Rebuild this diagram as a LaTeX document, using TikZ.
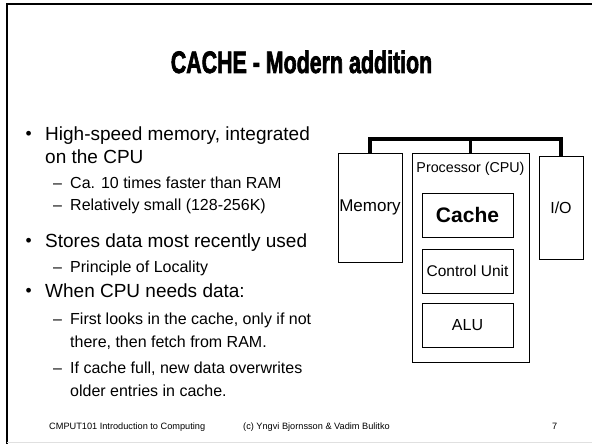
\documentclass[tikz,border=0pt]{standalone}
\usepackage{fontspec}
\setmainfont{Liberation Sans}
\newfontfamily\titlefont[FakeBold=2.6]{Liberation Sans Bold}
\begin{document}
\begin{tikzpicture}[x=1pt,y=-1pt,
  txt/.style={anchor=base west,inner sep=0pt,font=\fontsize{19}{23}\selectfont},
  dot/.style={anchor=base west,inner sep=0pt,font=\fontsize{17.5}{23}\selectfont},
  subtxt/.style={anchor=base west,inner sep=0pt,font=\fontsize{16}{19}\selectfont},
  foot/.style={anchor=base west,inner sep=0pt,font=\fontsize{9.2}{11}\selectfont},
  box/.style={draw=black,line width=0.8pt,inner sep=0pt,align=center,
              font=\fontsize{15.5}{18}\selectfont},
  bus/.style={line width=3.4pt,line cap=butt,line join=miter}]
  \useasboundingbox (0,0) rectangle (592,444);
  \fill[white] (0,0) rectangle (592,444);

  % slide frame
  \draw[line width=2.2pt] (7,444) -- (7,4) -- (592,4);
  \draw[line width=1pt,black!12] (7,442.5) -- (592,442.5);

  % title
  \node[anchor=base,inner sep=0pt] (title) at (301.5,73)
    {\scalebox{0.69}[1]{\titlefont\fontsize{31}{34}\selectfont CACHE - Modern addition}};

  % bullet list
  \node[dot] (b1d) at (25.5,139.5) {\textbullet};
  \node[txt] (b1)  at (45,140) {High-speed memory, integrated};
  \node[txt] (b1b) at (45,163) {on the CPU};
  \node[subtxt] (s1d) at (53,188) {--};
  \node[subtxt] (s1)  at (70,188) {Ca. 10 times faster than RAM};
  \node[subtxt] (s2d) at (53,210) {--};
  \node[subtxt] (s2)  at (70,210) {Relatively small (128-256K)};
  \node[dot] (b2d) at (25.5,246.5) {\textbullet};
  \node[txt] (b2)  at (45,247) {Stores data most recently used};
  \node[subtxt] (s3d) at (53,272) {--};
  \node[subtxt] (s3)  at (70,272) {Principle of Locality};
  \node[dot] (b3d) at (25.5,296.5) {\textbullet};
  \node[txt] (b3)  at (45,297) {When CPU needs data:};
  \node[subtxt] (s4d) at (53,324) {--};
  \node[subtxt] (s4)  at (70,324) {First looks in the cache, only if not};
  \node[subtxt] (s4b) at (70,347) {there, then fetch from RAM.};
  \node[subtxt] (s5d) at (53,373) {--};
  \node[subtxt] (s5)  at (70,373) {If cache full, new data overwrites};
  \node[subtxt] (s5b) at (70,396) {older entries in cache.};

  % computer organisation
  \node[box,minimum width=64,minimum height=109,font=\fontsize{17}{20}\selectfont] (mem) at (370,207.5) {Memory};
  \node[box,minimum width=117,minimum height=209] (cpu) at (470.5,257.5) {};
  \node[inner sep=0pt,font=\fontsize{14.3}{17}\selectfont] (cpulbl) at (470.5,169) {Processor (CPU)};
  \node[box,minimum width=91,minimum height=44,font=\fontsize{21}{24}\selectfont\bfseries] (cache) at (467.5,215) {Cache};
  \node[box,minimum width=91,minimum height=44] (cu) at (467.5,271) {Control Unit};
  \node[box,minimum width=91,minimum height=44,font=\fontsize{16}{19}\selectfont] (alu) at (467.5,325) {ALU};
  \node[box,minimum width=44,minimum height=103,font=\fontsize{16}{19}\selectfont] (io) at (561,207.5) {I/O};

  % system bus
  \coordinate (bustop) at (0,139);
  \draw[bus] (mem.north) |- (bustop -| io.north) -- (io.north);
  \draw[bus] (cpu.north) -- (cpu.north |- bustop);

  % footer
  \node[foot] (f1) at (49,429) {CMPUT101 Introduction to Computing};
  \node[foot] (f2) at (243,429) {(c) Yngvi Bjornsson \& Vadim Bulitko};
  \node[foot] (f3) at (552,429) {7};
\end{tikzpicture}
\end{document}
